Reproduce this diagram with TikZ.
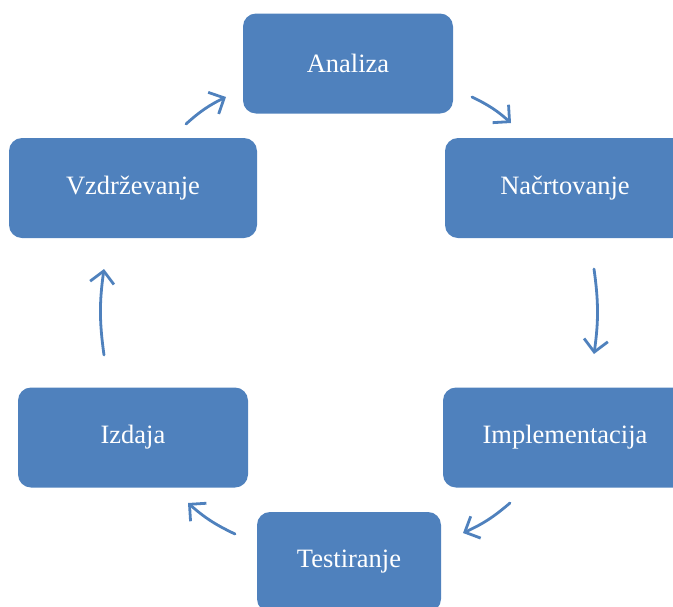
\documentclass[tikz,border=0pt]{standalone}
\usepackage{fontspec}
\setmainfont{Liberation Serif}
\usetikzlibrary{arrows.meta}
\definecolor{phase}{HTML}{4F81BD}
\tikzset{
  phasebox/.style={fill=phase, draw=none, rounded corners=13pt, text=white,
    font=\fontsize{26.5}{31}\selectfont, inner sep=0pt, minimum height=100pt},
  flow/.style={draw=phase, line width=2.8pt, line cap=round,
    -{Straight Barb[length=12pt,width=24pt,line width=2.8pt]}, bend left=8}
}
\begin{document}
\begin{tikzpicture}[x=1pt,y=-1pt]
  \useasboundingbox (0,0) rectangle (673,606);
  % lifecycle phases
  \node[phasebox, minimum width=210pt] (ana) at (348,63.5) {Analiza};
  \node[phasebox, minimum width=240pt] (nac) at (565,188) {Načrtovanje};
  \node[phasebox, minimum width=248pt] (vzd) at (133,188) {Vzdrževanje};
  \node[phasebox, minimum width=244pt] (imp) at (565,437.5) {Implementacija};
  \node[phasebox, minimum width=230pt] (izd) at (133,437.5) {Izdaja};
  \node[phasebox, minimum width=184pt] (tes) at (349,562) {Testiranje};
  % arrow end points between the phases
  \coordinate (a1) at (472,97);  \coordinate (b1) at (511,123);
  \coordinate (a2) at (594,269); \coordinate (b2) at (594,354);
  \coordinate (a3) at (510,503); \coordinate (b3) at (463,533);
  \coordinate (a4) at (235,534); \coordinate (b4) at (188,503);
  \coordinate (a5) at (104,355); \coordinate (b5) at (104,269);
  \coordinate (a6) at (186,124); \coordinate (b6) at (226,97);
  \foreach \i in {1,...,6} \draw[flow] (a\i) to (b\i);
\end{tikzpicture}
\end{document}
